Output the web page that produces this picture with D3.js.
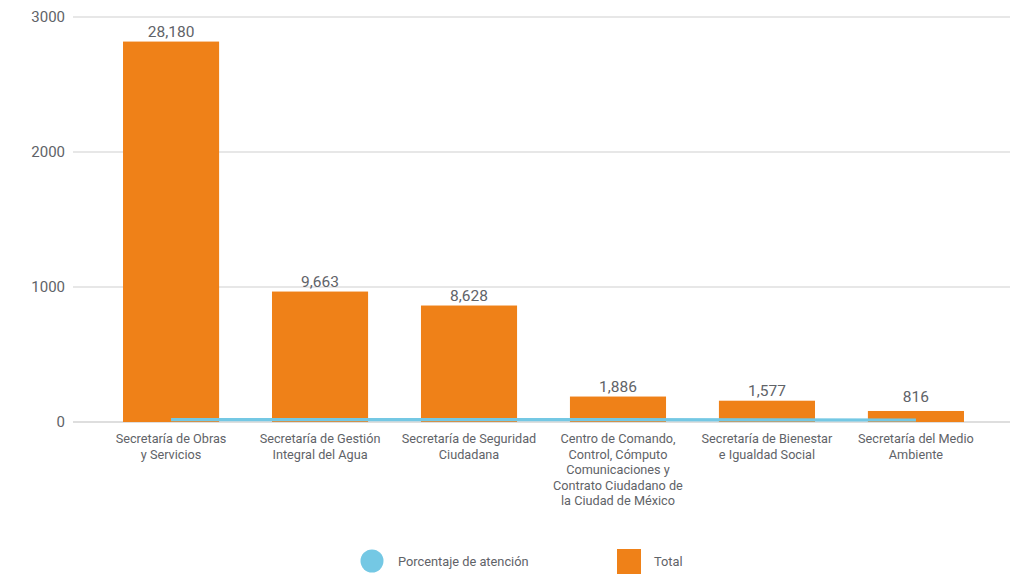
<!DOCTYPE html>
<html>
<head>
<meta charset="utf-8">
<script src="https://cdn.jsdelivr.net/npm/d3@7"></script>
<style>
  html, body { margin: 0; padding: 0; background: #fff; }
  svg { display: block; font-family: Roboto, "Noto Sans", sans-serif; }
</style>
</head>
<body>
<svg id="chart" width="1026" height="574"></svg>
<script>
const categories = [
  ["Secretaría de Obras", "y Servicios"],
  ["Secretaría de Gestión", "Integral del Agua"],
  ["Secretaría de Seguridad", "Ciudadana"],
  ["Centro de Comando,", "Control, Cómputo", "Comunicaciones y", "Contrato Ciudadano de", "la Ciudad de México"],
  ["Secretaría de Bienestar", "e Igualdad Social"],
  ["Secretaría del Medio", "Ambiente"]
];
const totals = [28180, 9663, 8628, 1886, 1577, 816];
const totalAxisDivisor = 10;            // bars are plotted against the axis in tens
const porcentaje = [17, 18, 18, 17, 16, 15];
const yTicks = [0, 1000, 2000, 3000];
const legendLabels = ["Porcentaje de atención", "Total"];

const orange = "#EF8118";
const blue = "#74C8E4";
const textColor = "#5f6368";

const svg = d3.select("#chart");
const plot = { left: 73, right: 1010, top: 17, bottom: 422 };

const x = d3.scaleBand()
  .domain(d3.range(categories.length))
  .range([96.5, 990.5])
  .paddingInner(0.355)
  .paddingOuter(0.178);

const y = d3.scaleLinear().domain([0, 3000]).range([plot.bottom, plot.top]);

// gridlines
svg.append("g").selectAll("line").data(yTicks).join("line")
  .attr("x1", plot.left).attr("x2", plot.right)
  .attr("y1", d => y(d)).attr("y2", d => y(d))
  .attr("stroke", d => d === 0 ? "#bdbdbd" : "#cfcfcf").attr("stroke-width", 1.2);

// y axis labels
const yAxis = d3.axisLeft(y).tickValues(yTicks).tickSize(0).tickPadding(0).tickFormat(d3.format("d"));
const ya = svg.append("g").attr("transform", `translate(${plot.left - 8},0)`).call(yAxis);
ya.select(".domain").remove();
ya.selectAll("text").attr("fill", textColor).attr("font-size", 15).attr("font-family", "Roboto");

// bars
svg.append("g").selectAll("rect").data(totals).join("rect")
  .attr("x", (d, i) => x(i))
  .attr("width", x.bandwidth())
  .attr("y", d => y(d / totalAxisDivisor))
  .attr("height", d => y(0) - y(d / totalAxisDivisor))
  .attr("fill", orange);

// value labels
svg.append("g").selectAll("text").data(totals).join("text")
  .attr("x", (d, i) => x(i) + x.bandwidth() / 2)
  .attr("y", d => Math.min(y(d / totalAxisDivisor) - 5, y(0) - 20))
  .attr("text-anchor", "middle")
  .attr("fill", textColor)
  .attr("font-size", 15.5)
  .text(d => d3.format(",")(d));

// line
const line = d3.line()
  .x((d, i) => x(i) + x.bandwidth() / 2)
  .y(d => y(d));
svg.append("path").datum(porcentaje)
  .attr("d", line)
  .attr("fill", "none")
  .attr("stroke", blue)
  .attr("stroke-width", 3.2);

// category labels
const cat = svg.append("g").selectAll("text").data(categories).join("text")
  .attr("x", (d, i) => x(i) + x.bandwidth() / 2)
  .attr("y", 443)
  .attr("text-anchor", "middle")
  .attr("fill", textColor)
  .attr("font-size", 12.7);
cat.selectAll("tspan").data(d => d).join("tspan")
  .attr("x", function () { return d3.select(this.parentNode).attr("x"); })
  .attr("dy", (d, i) => i === 0 ? 0 : 15.6)
  .text(d => d);

// legend
const lg = svg.append("g");
lg.append("circle").attr("cx", 372).attr("cy", 561).attr("r", 11.5).attr("fill", blue);
lg.append("text").attr("x", 398).attr("y", 566).attr("fill", textColor).attr("font-size", 12.8).text(legendLabels[0]);
lg.append("rect").attr("x", 617).attr("y", 549).attr("width", 24).attr("height", 25).attr("fill", orange);
lg.append("text").attr("x", 654).attr("y", 566).attr("fill", textColor).attr("font-size", 12.8).text(legendLabels[1]);
</script>
</body>
</html>
